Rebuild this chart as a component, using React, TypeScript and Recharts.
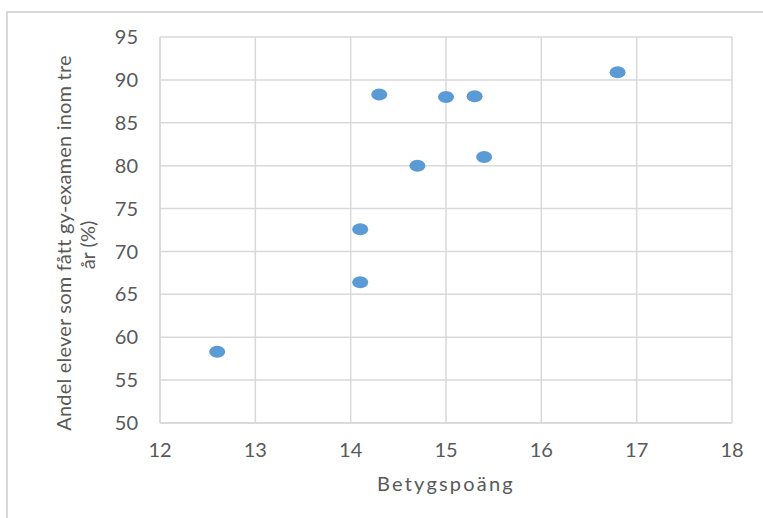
import { ScatterChart, Scatter, XAxis, YAxis, CartesianGrid, Label } from 'recharts';

const betyg = [12.6, 14.1, 14.1, 14.3, 14.7, 15.0, 15.3, 15.4, 16.8];
const andel = [58.3, 66.4, 72.6, 88.3, 80.0, 88.0, 88.1, 81.0, 90.9];
const xTicks = [12, 13, 14, 15, 16, 17, 18];
const yTicks = [50, 55, 60, 65, 70, 75, 80, 85, 90, 95];

const points = betyg.map((x, i) => ({ x, y: andel[i] }));

const font = 'Lato, "Open Sans", sans-serif';

const Dot = (props: any) => (
  <ellipse cx={props.cx} cy={props.cy} rx={8} ry={6} fill="#5B9BD5" />
);

const YTitle = (props: any) => {
  const vb = props.viewBox;
  const mid = vb.y + vb.height / 2;
  const c1 = mid + 13;
  const c2 = mid + 15;
  return (
    <g fill="#595959" fontSize={20} fontFamily={font}>
      <text transform={`rotate(-90 71 ${c1})`} x={71} y={c1} textAnchor="middle" letterSpacing={0.2}>
        Andel elever som fått gy-examen inom tre
      </text>
      <text transform={`rotate(-90 95 ${c2})`} x={95} y={c2} textAnchor="middle">
        år (%)
      </text>
    </g>
  );
};

const XTitle = (props: any) => {
  const vb = props.viewBox;
  return (
    <text
      x={vb.x + vb.width / 2}
      y={491}
      textAnchor="middle"
      fill="#595959"
      fontSize={20}
      fontFamily={font}
      letterSpacing={2.2}
    >
      Betygspoäng
    </text>
  );
};

export default function App() {
  return (
    <div style={{ position: 'fixed', left: 0, top: 0, width: 763, height: 518, overflow: 'hidden', background: '#fff' }}>
      <div
        style={{
          position: 'absolute',
          left: 6,
          top: 11,
          width: 800,
          height: 600,
          border: '2px solid #d9d9d9',
        }}
      />
      <div style={{ position: 'absolute', left: 0, top: 0 }}>
        <ScatterChart width={763} height={518} margin={{ top: 37, right: 31, bottom: 0, left: 0 }}>
          <CartesianGrid stroke="#d9d9d9" strokeWidth={1.5} />
          <XAxis
            type="number"
            dataKey="x"
            domain={[12, 18]}
            ticks={xTicks}
            height={95}
            axisLine={{ stroke: '#d9d9d9', strokeWidth: 1.5 }}
            tickLine={false}
            tickSize={0}
            tickMargin={20}
            tick={{ fill: '#595959', fontSize: 20, fontFamily: font }}
            interval={0}
          >
            <Label content={<XTitle />} />
          </XAxis>
          <YAxis
            type="number"
            dataKey="y"
            domain={[50, 95]}
            ticks={yTicks}
            width={160}
            axisLine={{ stroke: '#d9d9d9', strokeWidth: 1.5 }}
            tickLine={false}
            tickSize={0}
            tickMargin={22}
            tick={{ fill: '#595959', fontSize: 20, fontFamily: font }}
            interval={0}
          >
            <Label content={<YTitle />} />
          </YAxis>
          <Scatter data={points} shape={<Dot />} isAnimationActive={false} />
        </ScatterChart>
      </div>
    </div>
  );
}
